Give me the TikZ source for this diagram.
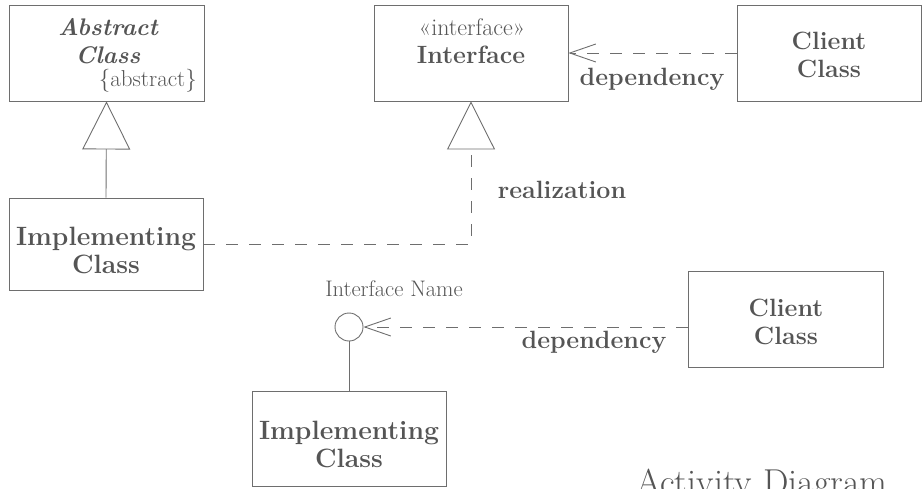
\documentclass[tikz,border=0pt]{standalone}
\usetikzlibrary{arrows.meta}
\definecolor{ink}{HTML}{555555}
\definecolor{lin}{HTML}{6E6E6E}
\begin{document}
\begin{tikzpicture}[x=1pt,y=-1pt,
  box/.style={draw=lin, line width=0.9pt, inner sep=0pt},
  lbl/.style={text=ink, inner sep=0pt, align=center},
  boldtxt/.style={lbl, font=\fontsize{25}{28}\selectfont\bfseries},
  bigbold/.style={lbl, font=\fontsize{26.5}{28}\selectfont\bfseries},
  regtxt/.style={lbl, font=\fontsize{23}{26}\selectfont},
  conn/.style={draw=lin, line width=0.9pt},
  dashline/.style={conn, dash pattern=on 12pt off 11pt},
  gen/.style={-{Triangle[open,length=48pt,width=48pt,line width=0.9pt]}},
  dep/.style={-{Straight Barb[length=26pt,width=18pt,line width=0.9pt]}}
]
\useasboundingbox (0,0) rectangle (923,488);

% Abstract class
\node[box, minimum width=195pt, minimum height=96pt] (abs) at (106.5,53) {};
\node[lbl, font=\fontsize{24}{28}\selectfont\bfseries\itshape] (absname) at (108,41) {Abstract\\Class};
\node[regtxt, anchor=east] (abstag) at (197,81) {\{abstract\}};

% Implementing class 1
\node[box, minimum width=194pt, minimum height=92pt] (impl1) at (106,244) {};
\node[bigbold] (impl1txt) at (106,250) {Implementing\\Class};

% Interface
\node[box, minimum width=194pt, minimum height=96pt] (iface) at (471,53) {};
\node[regtxt, font=\fontsize{24}{26}\selectfont] (stereo) at (472,27) {«interface»};
\node[boldtxt] (ifname) at (471,55) {Interface};

% Client class 1
\node[box, minimum width=184pt, minimum height=96pt] (client1) at (829,53) {};
\node[boldtxt] (client1txt) at (829,55) {Client\\Class};

% Lollipop interface
\node[circle, draw=lin, line width=0.9pt, minimum size=28pt, inner sep=0pt] (circ) at (349,327) {};
\node[regtxt, font=\fontsize{22.5}{26}\selectfont] (iname) at (394,289) {Interface Name};

% Client class 2
\node[box, minimum width=195pt, minimum height=96pt] (client2) at (785.5,319) {};
\node[boldtxt] (client2txt) at (786,322) {Client\\Class};

% Implementing class 2
\node[box, minimum width=194pt, minimum height=95pt] (impl2) at (349,438.5) {};
\node[bigbold] (impl2txt) at (349,444) {Implementing\\Class};

% Connectors
\draw[conn, gen] (impl1.north) -- (abs.south);
\draw[dashline, gen] (impl1.east) -| (iface.south);
\draw[dashline, dep] (client1.west) -- (iface.east);
\draw[dashline, dep] (circ.east -| client2.west) -- (circ.east);
\draw[conn] (circ.south) -- (impl2.north);

% Labels
\node[boldtxt] (dep1) at (652,79) {dependency};
\node[boldtxt] (real) at (562,190) {realization};
\node[boldtxt] (dep2) at (594,342) {dependency};

% Cut-off caption
\node[lbl, font=\fontsize{36}{40}\selectfont, anchor=base] (act) at (762,494) {Activity Diagram};
\end{tikzpicture}
\end{document}
